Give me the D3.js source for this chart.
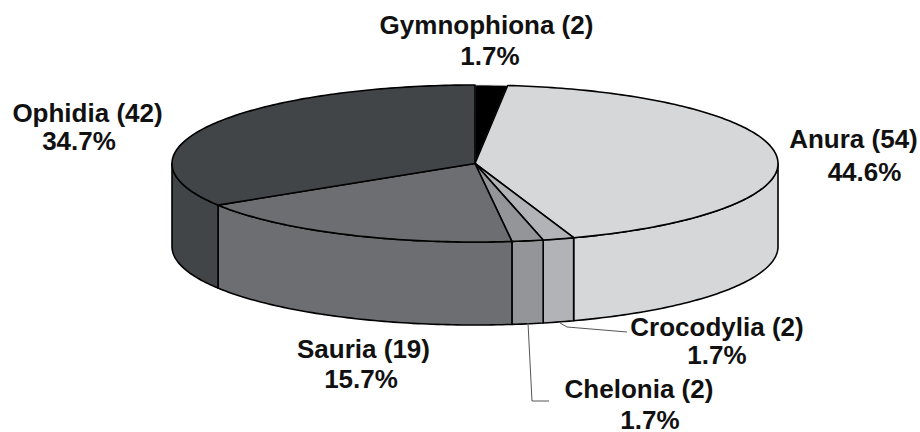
<!DOCTYPE html>
<html>
<head>
<meta charset="utf-8">
<script src="https://d3js.org/d3.v7.min.js"></script>
<style>
html, body { margin: 0; padding: 0; background: #fff; }
svg { display: block; }
text { font-family: "Liberation Sans", sans-serif; font-weight: bold; font-size: 26px; fill: #111; text-anchor: middle; }
</style>
</head>
<body>
<script>
var w = 920;
var h = 432;

//Chart values, clockwise from twelve o'clock
var taxa = ["Gymnophiona", "Anura", "Crocodylia", "Chelonia", "Sauria", "Ophidia"];
var counts = [2, 54, 2, 2, 19, 42];
var percents = ["1.7%", "44.6%", "1.7%", "1.7%", "15.7%", "34.7%"];
var colors = ["#000000", "#d6d7d9", "#b1b3b6", "#939598", "#6d6e71", "#414548"];

//Where each wedge border appears on the tilted disc, in degrees
var apparentBorders = [0, 6.2, 161, 167, 173, 238, 360];

var cx = 475, cy = 163.5, rx = 303, ry = 78.5, depth = 83;

var svg = d3.select("body")
    .append("svg")
    .attr("width", w)
    .attr("height", h);

var pie = d3.pie().sort(null).value(function(d) { return d; });
var arcs = pie(counts);

//The original has perspective, so true pie angles do not land where a flat ellipse would put them
var trueBorders = [0].concat(arcs.map(function(d) { return d.endAngle; }));
var warp = d3.scaleLinear()
    .domain(trueBorders)
    .range(apparentBorders.map(function(d) { return d * Math.PI / 180; }));

function px(a) { return cx + rx * Math.sin(a); }
function py(a) { return cy - ry * Math.cos(a); }

//Points along the rim between two drawn angles
function rim(a0, a1, dy) {
    var n = Math.max(2, Math.ceil(Math.abs(a1 - a0) * 60));
    return d3.range(n + 1).map(function(i) {
        var a = a0 + (a1 - a0) * i / n;
        return [px(a), py(a) + dy];
    });
}

var line = d3.line();

var data = arcs.map(function(d, i) {
    return { a0: warp(d.startAngle), a1: warp(d.endAngle), color: colors[i] };
});

//Outer wall, only the part of the rim facing the viewer (right to left through the bottom)
var walls = svg.append("g");
data.forEach(function(d) {
    var a0 = Math.max(d.a0, Math.PI / 2);
    var a1 = Math.min(d.a1, Math.PI * 3 / 2);
    if (a0 >= a1) return;
    var pts = rim(a0, a1, 0).concat(rim(a1, a0, depth));
    walls.append("path")
        .attr("d", line(pts) + "Z")
        .attr("fill", d.color)
        .attr("stroke", "#000")
        .attr("stroke-width", 1.6)
        .attr("stroke-linejoin", "round");
});

//Top of the disc
var tops = svg.append("g");
data.forEach(function(d, i) {
    var pts = [[cx, cy]].concat(rim(d.a0, d.a1, 0));
    tops.append("path")
        .attr("d", line(pts) + "Z")
        .attr("fill", d.color)
        .attr("stroke", i == 0 ? "#d6d7d9" : "#000")
        .attr("stroke-width", i == 0 ? 0.8 : 1.6)
        .attr("stroke-linejoin", "round");
});

//Leader lines
var leaders = [
    [[560, 323], [567, 327], [627, 332]],
    [[528, 323], [532, 401], [549, 401]]
];
svg.selectAll(".leader")
    .data(leaders)
    .enter()
    .append("path")
    .attr("class", "leader")
    .attr("d", line)
    .attr("fill", "none")
    .attr("stroke", "#555")
    .attr("stroke-width", 1);

//Labels: name line and percent line are placed separately, they are not centred on each other
var nameAt = [[486.5, 34], [853.5, 148], [717, 336], [639, 398], [363.5, 358], [87.5, 122]];
var percentAt = [[490, 65], [864.5, 181], [717, 364], [650, 429], [361, 388], [79, 150]];
svg.selectAll(".name")
    .data(taxa)
    .enter()
    .append("text")
    .attr("class", "name")
    .attr("x", function(d, i) { return nameAt[i][0]; })
    .attr("y", function(d, i) { return nameAt[i][1]; })
    .text(function(d, i) { return d + " (" + counts[i] + ")"; });
svg.selectAll(".percent")
    .data(percents)
    .enter()
    .append("text")
    .attr("class", "percent")
    .attr("x", function(d, i) { return percentAt[i][0]; })
    .attr("y", function(d, i) { return percentAt[i][1]; })
    .text(function(d) { return d; });
</script>
</body>
</html>
